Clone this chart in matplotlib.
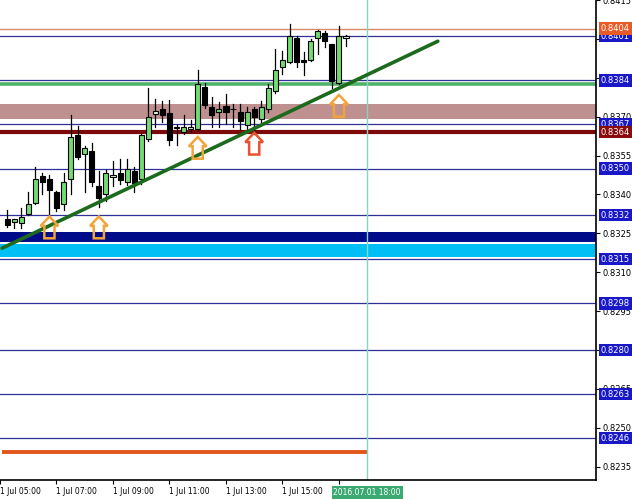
import matplotlib
matplotlib.use("Agg")
import matplotlib.pyplot as plt
from matplotlib.patches import Polygon, Rectangle

plt.rcParams['font.family'] = ['DejaVu Sans']

# ---- candle data (M15, index 1 = 05:15) ----
idx = list(range(1, 50))
opens = [0.83304, 0.83292, 0.83289, 0.83323, 0.83369, 0.83473, 0.83461, 0.83408, 0.83362, 0.83461,
         0.83630, 0.83557, 0.83569, 0.83431, 0.83400, 0.83469, 0.83481, 0.83450, 0.83492, 0.83461,
         0.83615, 0.83711, 0.83730, 0.83715, 0.83657, 0.83642, 0.83653, 0.83653, 0.83814, 0.83738,
         0.83718, 0.83741, 0.83728, 0.83718, 0.83669, 0.83730, 0.83692, 0.83730, 0.83799, 0.83891,
         0.83910, 0.84002, 0.83918, 0.83918, 0.84002, 0.84022, 0.83979, 0.83830, 0.84002]
highs = [0.83339, 0.83304, 0.83346, 0.83411, 0.83507, 0.83481, 0.83477, 0.83415, 0.83484, 0.83707,
         0.83665, 0.83588, 0.83599, 0.83492, 0.83496, 0.83530, 0.83538, 0.83538, 0.83507, 0.83634,
         0.83810, 0.83768, 0.83761, 0.83764, 0.83669, 0.83707, 0.83688, 0.83880, 0.83830, 0.83776,
         0.83757, 0.83787, 0.83749, 0.83749, 0.83738, 0.83738, 0.83761, 0.83826, 0.83960, 0.83952,
         0.84056, 0.84010, 0.83949, 0.83998, 0.84033, 0.84029, 0.83979, 0.84048, 0.84014]
lows = [0.83273, 0.83269, 0.83269, 0.83319, 0.83365, 0.83400, 0.83323, 0.83335, 0.83339, 0.83400,
        0.83538, 0.83408, 0.83434, 0.83350, 0.83373, 0.83431, 0.83442, 0.83438, 0.83408, 0.83442,
        0.83607, 0.83661, 0.83680, 0.83592, 0.83592, 0.83634, 0.83642, 0.83649, 0.83734, 0.83661,
        0.83661, 0.83672, 0.83661, 0.83653, 0.83649, 0.83634, 0.83672, 0.83718, 0.83791, 0.83864,
        0.83906, 0.83891, 0.83860, 0.83914, 0.83941, 0.83968, 0.83810, 0.83826, 0.83972]
closes = [0.83281, 0.83304, 0.83312, 0.83362, 0.83461, 0.83450, 0.83419, 0.83346, 0.83450, 0.83622,
          0.83546, 0.83580, 0.83450, 0.83385, 0.83481, 0.83477, 0.83457, 0.83500, 0.83446, 0.83630,
          0.83699, 0.83722, 0.83707, 0.83611, 0.83661, 0.83661, 0.83661, 0.83826, 0.83745, 0.83707,
          0.83730, 0.83718, 0.83730, 0.83684, 0.83718, 0.83699, 0.83738, 0.83810, 0.83880, 0.83918,
          0.84010, 0.83910, 0.83910, 0.83991, 0.84029, 0.83991, 0.83837, 0.84010, 0.84010]

# ---- horizontal levels ----
thin_levels = [0.8401, 0.8384, 0.8367, 0.8350, 0.8332, 0.8315, 0.8298, 0.8280, 0.8263, 0.8246]
top_level = 0.8404
green_level = 0.83826
red_level = 0.8364
rosy_band = (0.83690, 0.83748)
navy_band = (0.83216, 0.83254)
sky_band = (0.83158, 0.83208)
orange_level = 0.82406

# ---- trend line ----
trend_x = [0.3, 62.0]
trend_y = [0.83193, 0.83991]

# ---- arrows (index, tip price, color) ----
arrow_idx = [7, 14, 28, 36, 48]
arrow_tip = [0.83315, 0.83315, 0.83622, 0.83638, 0.83784]
arrow_col = ['#f2a43a', '#f2a43a', '#f2a43a', '#e8532e', '#f2a43a']

# ---- axis ----
yticks = [0.8235, 0.8250, 0.8265, 0.8280, 0.8295, 0.8310, 0.8325, 0.8340, 0.8355, 0.8370, 0.8385, 0.8400, 0.8415]
ytick_lab = ['0.8235', '0.8250', '0.8265', '', '0.8295', '0.8310', '0.8325', '0.8340', '0.8355', '0.8370', '', '', '0.8415']
xtick_idx = [0, 8, 16, 24, 32, 40, 48]
xtick_lab = ['1 Jul 05:00', '1 Jul 07:00', '1 Jul 09:00', '1 Jul 11:00', '1 Jul 13:00', '1 Jul 15:00', '']
vline_idx = 52
vline_label = '2016.07.01 18:00'

fig = plt.figure(figsize=(6.32, 5.0), dpi=100)
ax = fig.add_axes([0, 20/500, 596/632, 480/500])
ax.set_xlim(0.324, 84.4)
ax.set_ylim(0.82299, 0.84140)

navy = '#30309a'
# bands
ax.axhspan(*rosy_band, color='#bf9090', zorder=1, lw=0)
ax.axhspan(*navy_band, color='#000b8a', zorder=1, lw=0)
ax.axhspan(*sky_band, color='#00bff5', zorder=1, lw=0)
for lv in thin_levels:
    ax.axhline(lv, color=navy, lw=0.9, zorder=2)
ax.axhline(top_level, color='#d98a6a', lw=1.0, zorder=2)
ax.axhline(green_level, color='#4fb36b', lw=2.6, zorder=2)
ax.axhline(red_level, color='#7d0a0a', lw=3.0, zorder=2)
ax.plot([0.324, vline_idx], [orange_level, orange_level], color='#e2561c', lw=2.8, zorder=2, solid_capstyle='butt')
ax.axvline(vline_idx, color='#86d4c2', lw=1.0, zorder=2)

# candles
bw = 0.72
for i, o, h, l, c in zip(idx, opens, highs, lows, closes):
    ax.plot([i, i], [l, h], color='black', lw=0.9, zorder=4)
    bull = c >= o
    lo, hi = min(o, c), max(o, c)
    if hi - lo < 0.00003:
        hi = lo + 0.00003
    col = '#72dc72' if bull else 'black'
    if bull and hi - lo < 0.00012:
        col = '#e8f8e8'
    ax.add_patch(Rectangle((i - bw/2, lo), bw, hi - lo, facecolor=col, edgecolor='black', lw=0.8, zorder=5))

# trend line
ax.plot(trend_x, trend_y, color='#1c6b1c', lw=2.6, zorder=6, solid_capstyle='round')

# arrows
hw, sw = 1.25, 0.72
hh, th = 0.00036, 0.00084
for i, tip, colr in zip(arrow_idx, arrow_tip, arrow_col):
    pts = [(i, tip), (i + hw, tip - hh), (i + sw, tip - hh), (i + sw, tip - th),
           (i - sw, tip - th), (i - sw, tip - hh), (i - hw, tip - hh)]
    ax.add_patch(Polygon(pts, closed=True, facecolor='none', edgecolor=colr, lw=1.8, zorder=7))

# axes styling
for s in ['top', 'left']:
    ax.spines[s].set_visible(False)
ax.spines['right'].set_color('black')
ax.spines['bottom'].set_color('black')
ax.spines['right'].set_linewidth(1.2)
ax.spines['bottom'].set_linewidth(1.2)
ax.yaxis.tick_right()
ax.set_yticks(yticks)
ax.set_yticklabels(ytick_lab, fontsize=6)
ax.tick_params(axis='y', length=3, width=0.8, pad=2, colors='black')
ax.set_xticks(xtick_idx)
ax.set_xticklabels(xtick_lab, fontsize=5.5, ha='left')
ax.tick_params(axis='x', length=3, width=0.8, pad=2)

# right-hand price labels
def price_box(v, bg):
    ax.annotate(f'{v:.4f}', xy=(1.0, v), xycoords=('axes fraction', 'data'),
                xytext=(3.5, 0), textcoords='offset points', ha='left', va='center',
                fontsize=6, color='white', zorder=20, annotation_clip=False,
                bbox=dict(boxstyle='square,pad=0.2', fc=bg, ec='none'))

for lv in thin_levels:
    price_box(lv, '#1818c8')
price_box(top_level, '#ea5a24')
price_box(red_level, '#8a0c0c')

# vertical line time label
ax.annotate(vline_label, xy=(vline_idx, 0), xycoords=('data', 'axes fraction'),
            xytext=(0, -9), textcoords='offset points', ha='center', va='center',
            fontsize=5.5, color='white', annotation_clip=False,
            bbox=dict(boxstyle='square,pad=0.25', fc='#3aaa72', ec='none'))

fig.savefig('out.png', dpi=100)
